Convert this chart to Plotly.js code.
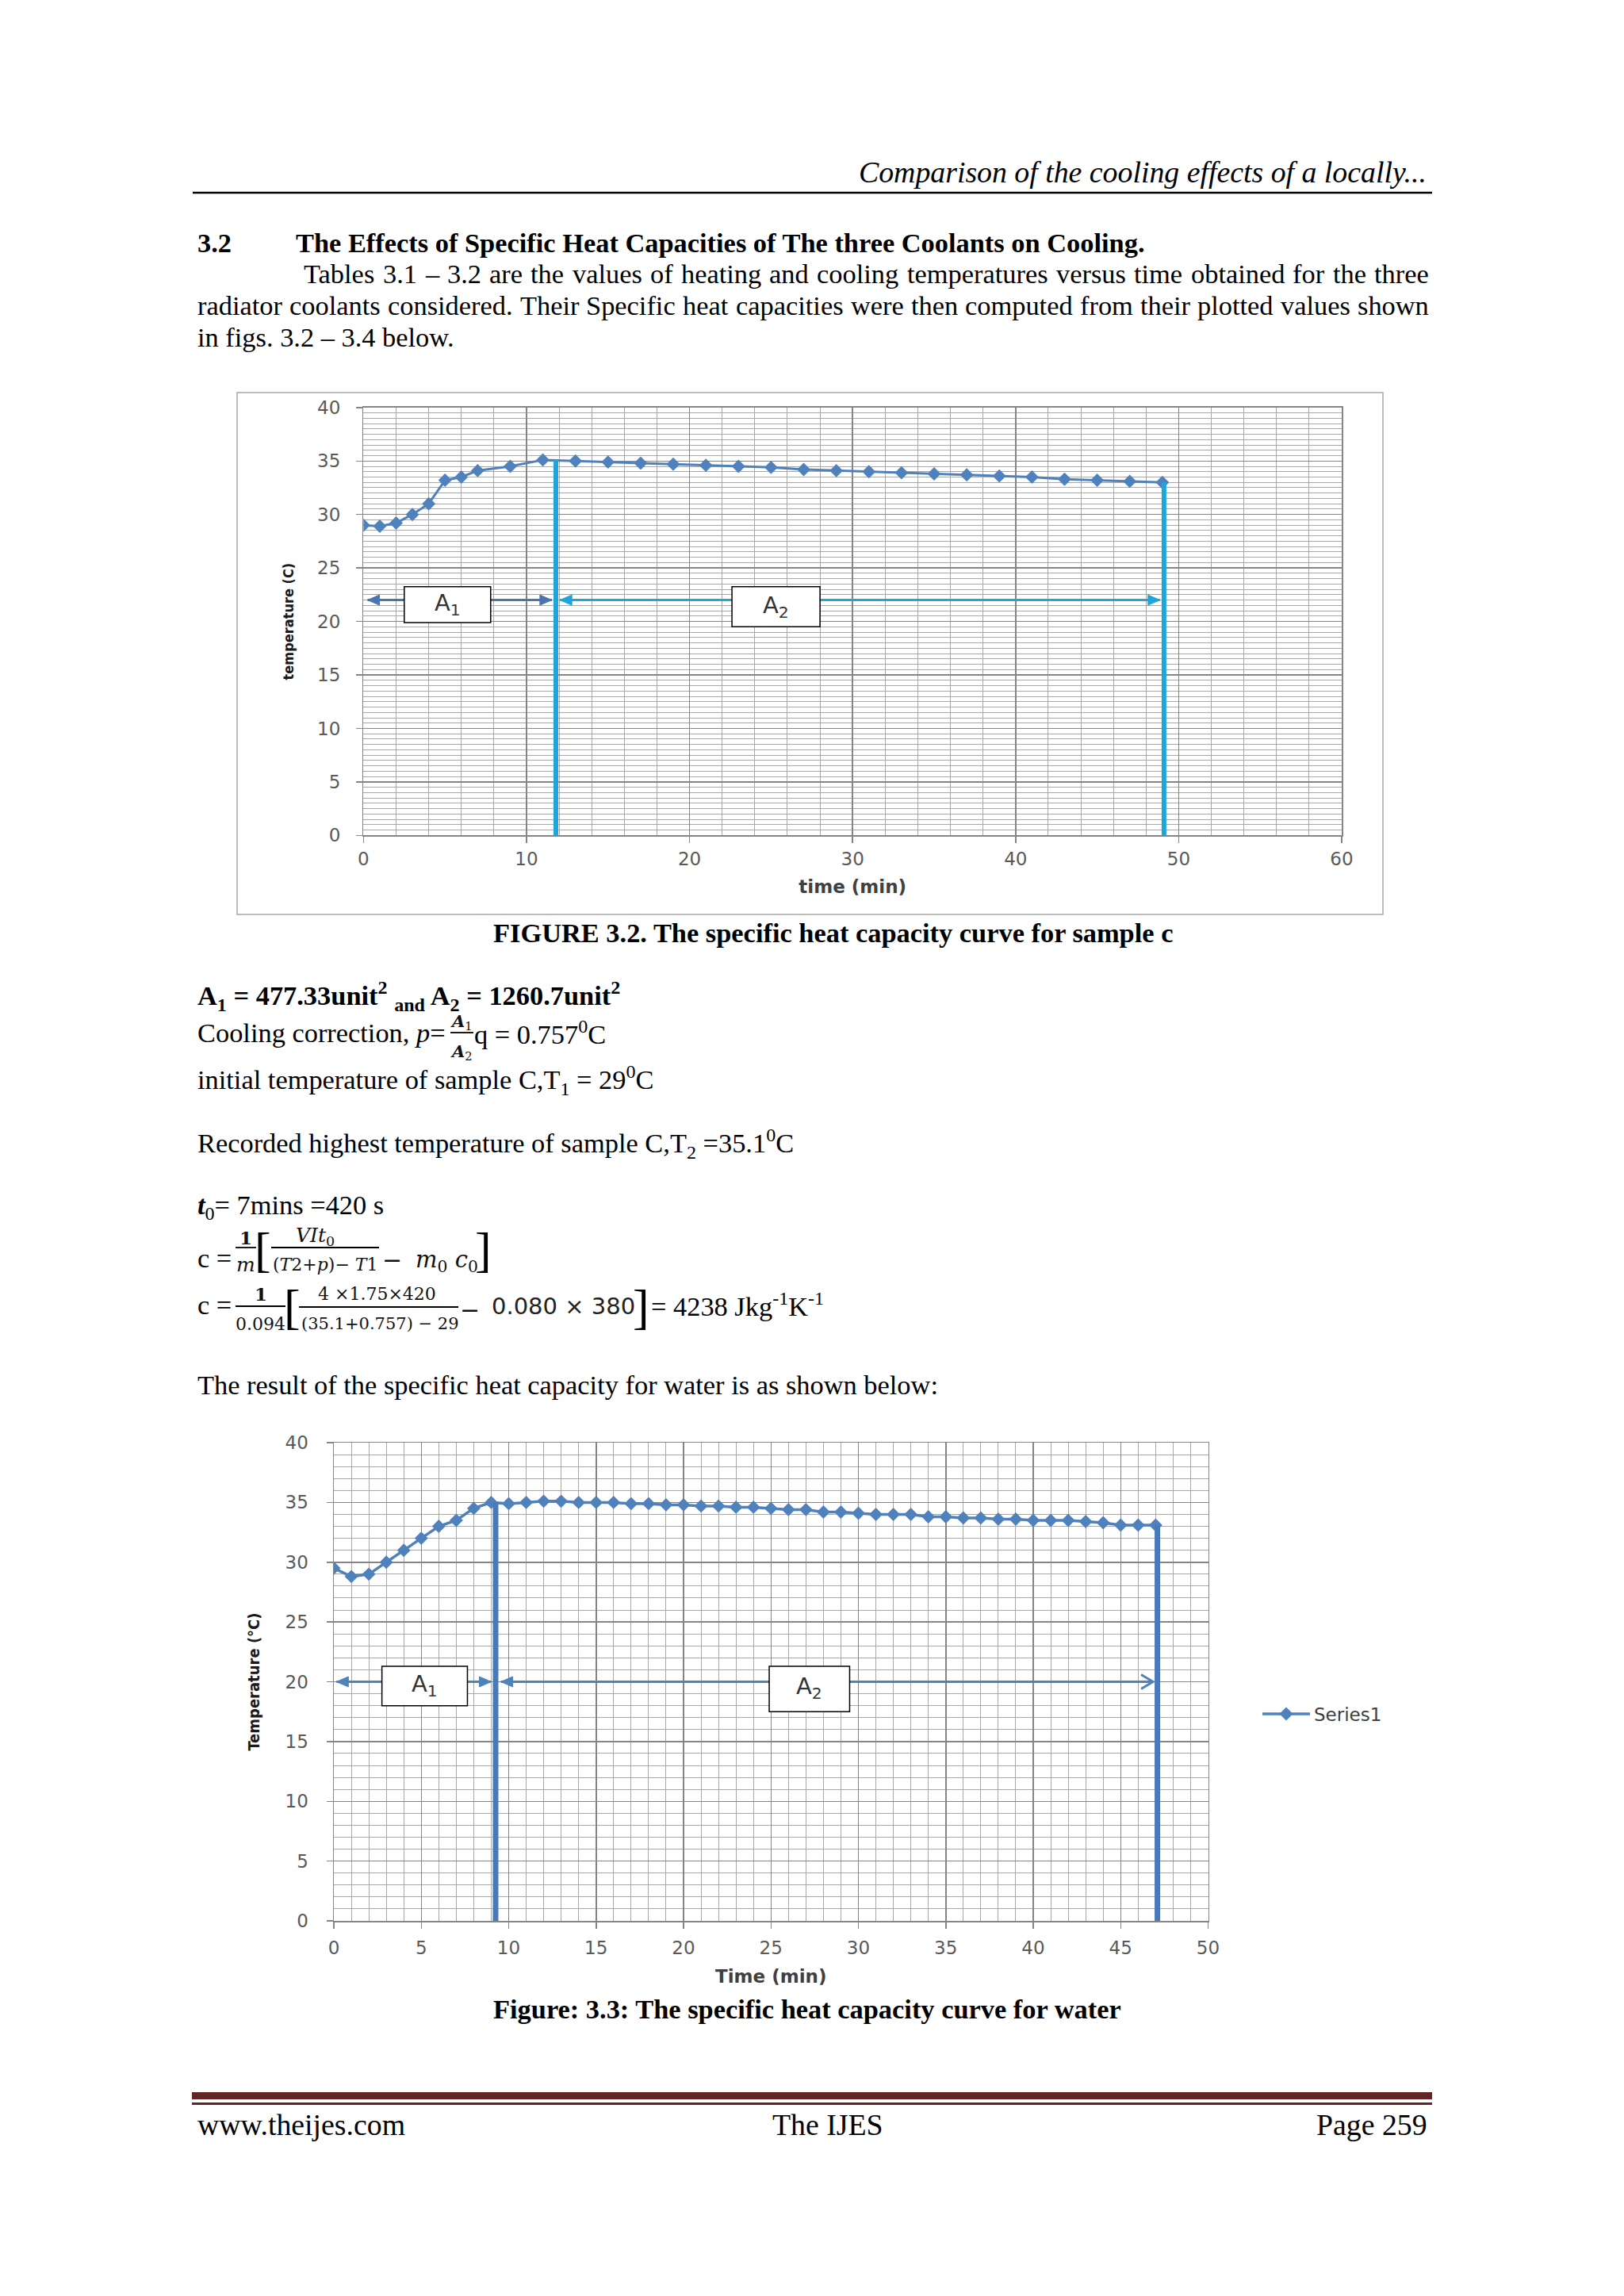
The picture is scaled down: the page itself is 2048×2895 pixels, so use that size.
<!DOCTYPE html>
<html><head><meta charset="utf-8">
<script src="https://cdn.plot.ly/plotly-3.0.1.min.js"></script>
<style>html,body{margin:0;padding:0;background:#fff}#page{width:2048px;height:2895px}</style>
</head><body><div id="page"></div>
<script>
// ---------------- data ----------------
const fig32Time = [0,1,2,3,4,5,6,7,9,11,13,15,17,19,21,23,25,27,29,31,33,35,37,39,41,43,45,47,49];
const fig32Temp = [29.0,28.9,29.2,30.0,31.0,33.2,33.5,34.1,34.5,35.1,35.0,34.9,34.8,34.7,34.6,34.5,34.4,34.2,34.1,34.0,33.9,33.8,33.7,33.6,33.5,33.3,33.2,33.1,33.0];
const fig33Time = [0,1,2,3,4,5,6,7,8,9,10,11,12,13,14,15,16,17,18,19,20,21,22,23,24,25,26,27,28,29,30,31,32,33,34,35,36,37,38,39,40,41,42,43,44,45,46,47];
const fig33Temp = [29.5,28.8,29.0,30.0,31.0,32.0,33.0,33.5,34.5,35.0,34.9,35.0,35.1,35.1,35.0,35.0,35.0,34.9,34.9,34.8,34.8,34.7,34.7,34.6,34.6,34.5,34.4,34.4,34.2,34.2,34.1,34.0,34.0,34.0,33.8,33.8,33.7,33.7,33.6,33.6,33.5,33.5,33.5,33.4,33.3,33.1,33.1,33.1];
const fig32XTicks = [0,10,20,30,40,50,60];
const fig32YTicks = [0,5,10,15,20,25,30,35,40];
const fig33XTicks = [0,5,10,15,20,25,30,35,40,45,50];
const fig33YTicks = [0,5,10,15,20,25,30,35,40];
const seriesName = 'Series1';

// ---------------- page helpers ----------------
const W = 2048, H = 2895;
const SERIF = 'Liberation Serif, Times New Roman, serif';
const MATH = 'DejaVu Serif, serif';
const SANS = 'DejaVu Sans, sans-serif';
const NARROW = 'Liberation Sans Narrow, DejaVu Sans Condensed, sans-serif';
const BODY = 34.4;
const anns = [];
const shapes = [];

function pageText(text, x, baseline, o) {
  o = o || {};
  const size = o.size || BODY;
  anns.push({xref:'paper', yref:'paper', x:x/W, y:1-(baseline-0.34*size)/H,
    xanchor:o.anchor||'left', yanchor:'middle', text:text, showarrow:false, borderpad:0,
    font:{family:o.family||SERIF, size:size, color:o.color||'#000'}});
}
function centerText(text, cx, cy, o) {
  o = o || {};
  anns.push({xref:'paper', yref:'paper', x:cx/W, y:1-cy/H, xanchor:'center', yanchor:'middle',
    text:text, showarrow:false, borderpad:0,
    font:{family:o.family||MATH, size:o.size||21, color:o.color||'#111'}});
}
function pageLine(x0, x1, y, w, c) {
  shapes.push({type:'line', xref:'paper', yref:'paper', x0:x0/W, x1:x1/W, y0:1-y/H, y1:1-y/H,
    line:{color:c||'#000', width:w}});
}
function pageRect(x0, x1, y0, y1, c) {
  shapes.push({type:'rect', xref:'paper', yref:'paper', x0:x0/W, x1:x1/W, y0:1-y1/H, y1:1-y0/H,
    fillcolor:c, line:{width:0}});
}
const measureCtx = document.createElement('canvas').getContext('2d');
function justify(line, x0, x1, baseline) {
  const words = line.split(' ');
  measureCtx.font = BODY + 'px "Liberation Serif"';
  const widths = words.map(w => measureCtx.measureText(w).width);
  const total = widths.reduce((a, b) => a + b, 0);
  const gap = (x1 - x0 - total) / (words.length - 1);
  let x = x0;
  words.forEach((w, i) => { pageText(w, x, baseline); x += widths[i] + gap; });
}

// ---------------- page text ----------------
pageText('<i>Comparison of the cooling effects of a locally...</i>', 1800, 230, {size:37.8, anchor:'right'});
pageLine(243, 1806, 243, 2.5);
pageText('<b>3.2</b>', 248, 318);
pageText('<b>The Effects of Specific Heat Capacities of The three Coolants on Cooling.</b>', 372, 318);
justify('Tables 3.1 \u2013 3.2 are the values of heating and cooling temperatures versus time obtained for the three', 382, 1801, 357);
justify('radiator coolants considered. Their Specific heat capacities were then computed from their plotted values shown', 248, 1801, 397);
pageText('in figs. 3.2 \u2013 3.4 below.', 248, 437);

pageText('<b>FIGURE 3.2. The specific heat capacity curve for sample c</b>', 1050, 1188, {anchor:'center'});

pageText('<b>A<sub>1</sub> = 477.33unit<sup>2</sup> <sub>and</sub> A<sub>2</sub> = 1260.7unit<sup>2</sup></b>', 248, 1268);
pageText('Cooling correction, <i>p</i>=', 248, 1314);
centerText('<i><b>A</b></i><sub>1</sub>', 582, 1288, {size:21});
pageLine(568, 597, 1302, 1.8);
centerText('<i><b>A</b></i><sub>2</sub>', 582, 1327, {size:21});
pageText('q = 0.757<sup>0</sup>C', 597, 1314);
pageText('initial temperature of sample C,T<sub>1</sub> = 29<sup>0</sup>C', 248, 1374);
pageText('Recorded highest temperature of sample C,T<sub>2</sub> =35.1<sup>0</sup>C', 248, 1454);
pageText('<i><b>t</b></i><sub>0</sub>= 7mins =420 s', 248, 1533);

// c = 1/m [ VIt0 / ((T2+p) - T1) - m0 c0 ]
pageText('c =', 248, 1598);
centerText('<b>1</b>', 310, 1560, {size:23});
pageLine(297, 323, 1573, 1.8);
centerText('<i>m</i>', 310, 1594, {size:25});
centerText('[', 331, 1576, {family:SERIF, size:62, color:'#000'});
centerText('<i>VIt</i><sub>0</sub>', 397, 1559, {size:25});
pageLine(342, 478, 1573, 1.8);
centerText('(<i>T</i>2+<i>p</i>)\u2212 <i>T</i>1', 410, 1594, {size:22});
centerText('\u2212', 494, 1588, {size:30});
centerText('<i>m</i><sub>0</sub> <i>c</i><sub>0</sub>', 563, 1590, {size:29});
centerText(']', 609, 1576, {family:SERIF, size:62, color:'#000'});

// c = 1/0.094 [ ... ] = 4238
pageText('c =', 248, 1657);
centerText('<b>1</b>', 329, 1632, {size:23});
pageLine(297, 360, 1647, 1.8);
centerText('0.094', 328, 1669, {size:22});
centerText('[', 368, 1648, {family:SERIF, size:62, color:'#000'});
centerText('4 \u00d71.75\u00d7420', 475, 1632, {size:22});
pageLine(377, 578, 1648, 1.8);
centerText('(35.1+0.757) \u2212 29', 479, 1669, {size:21});
centerText('\u2212', 592, 1652, {size:30});
centerText('0.080 \u00d7 380', 710, 1647, {family:SANS, size:29, color:'#222'});
centerText(']', 808, 1648, {family:SERIF, size:62, color:'#000'});
pageText('= 4238 Jkg<sup>-1</sup>K<sup>-1</sup>', 820, 1657);

pageText('The result of the specific heat capacity for water is as shown below:', 248, 1758);
pageText('<b>Figure: 3.3: The specific heat capacity curve for water</b>', 1018, 2545, {anchor:'center'});

// footer
pageRect(242, 1806, 2638, 2647, '#632523');
pageRect(242, 1806, 2651, 2654, '#632523');
pageText('www.theijes.com', 248, 2692, {size:37.8});
pageText('The IJES', 1044, 2692, {size:37.8, anchor:'center'});
pageText('Page 259', 1801, 2692, {size:37.8, anchor:'right'});

// frame around figure 3.2
shapes.push({type:'rect', xref:'paper', yref:'paper', x0:299/W, x1:1744/W, y0:1-1153/H, y1:1-495/H,
  line:{color:'#a6a6a6', width:1.5}, fillcolor:'rgba(0,0,0,0)'});

// ---------------- chart overlays (construction lines, arrows, A1/A2 boxes) ----------------
const CYAN = '#1DA6DC', DARK = '#4A76AC', BLUE2 = '#4879B8', SER = '#4F81BD';
function dLine(xr, yr, x0, y0, x1, y1, c, w) {
  shapes.push({type:'line', xref:xr, yref:yr, x0:x0, y0:y0, x1:x1, y1:y1, line:{color:c, width:w}});
}
function dBox(xr, yr, x0, x1, y0, y1) {
  shapes.push({type:'rect', xref:xr, yref:yr, x0:x0, x1:x1, y0:y0, y1:y1, fillcolor:'#fff', line:{color:'#000', width:1.5}});
}
// arrow: straight segment from tail to head plus a head drawn in pixel units at the head point
function arrow(xr, yr, hx, tx, y, c, open) {
  const dir = hx < tx ? 1 : -1;               // +1: head points left
  shapes.push({type:'line', xref:xr, yref:yr, x0:tx, x1:hx, y0:y, y1:y, line:{color:c, width:3}});
  const L = 15 * dir, hw = open ? 9 : 6.5;
  shapes.push({type:'path', xref:xr, yref:yr, xsizemode:'pixel', ysizemode:'pixel', xanchor:hx, yanchor:y,
    path: open ? `M${L},${-hw} L0,0 L${L},${hw}` : `M0,0 L${L},${-hw} L${L},${hw} Z`,
    line:{color:c, width:open ? 3 : 1}, fillcolor: open ? 'rgba(0,0,0,0)' : c});
}
function boxLabel(xr, yr, x, y, t) {
  anns.push({xref:xr, yref:yr, x:x, y:y, text:t, showarrow:false, font:{family:SANS, size:29, color:'#333'}});
}
// figure 3.2
dLine('x', 'y', 11.8, 0, 11.8, 35.1, CYAN, 6);
dLine('x', 'y', 49.1, 0, 49.1, 33.0, CYAN, 6);
arrow('x', 'y', 0.25, 2.5, 22, DARK, false);
arrow('x', 'y', 11.55, 7.8, 22, DARK, false);
arrow('x', 'y', 12.05, 22.6, 22, CYAN, false);
arrow('x', 'y', 48.85, 28.0, 22, CYAN, false);
dBox('x', 'y', 2.5, 7.8, 19.9, 23.25);
dBox('x', 'y', 22.6, 28.0, 19.5, 23.25);
boxLabel('x', 'y', 5.15, 21.6, 'A<sub>1</sub>');
boxLabel('x', 'y', 25.3, 21.4, 'A<sub>2</sub>');
// figure 3.3
dLine('x2', 'y2', 9.25, -0.7, 9.25, 35.0, BLUE2, 7);
dLine('x2', 'y2', 47.1, 0, 47.1, 33.1, BLUE2, 7);
arrow('x2', 'y2', 0.15, 2.75, 20, SER, false);
arrow('x2', 'y2', 9.0, 7.64, 20, SER, false);
arrow('x2', 'y2', 9.55, 24.9, 20, SER, false);
arrow('x2', 'y2', 46.85, 29.5, 20, SER, true);
dBox('x2', 'y2', 2.75, 7.64, 18.0, 21.3);
dBox('x2', 'y2', 24.9, 29.5, 17.5, 21.3);
boxLabel('x2', 'y2', 5.2, 19.7, 'A<sub>1</sub>');
boxLabel('x2', 'y2', 27.2, 19.5, 'A<sub>2</sub>');

// ---------------- traces ----------------
const traces = [
  {x:fig32Time, y:fig32Temp, xaxis:'x', yaxis:'y', type:'scatter', mode:'lines+markers', showlegend:false,
   name:seriesName, line:{color:SER, width:3}, marker:{symbol:'diamond', size:13, color:SER}},
  {x:fig33Time, y:fig33Temp, xaxis:'x2', yaxis:'y2', type:'scatter', mode:'lines+markers', showlegend:true,
   name:seriesName, line:{color:SER, width:3.5}, marker:{symbol:'diamond', size:13, color:SER}}
];

const tickFont = {family:SANS, size:23, color:'#595959'};
function xAxis(dom, anchor, range, ticks, minor, title, standoff, lstand) {
  return {domain:dom, anchor:anchor, range:range, tickvals:ticks, ticktext:ticks.map(String),
    showgrid:true, gridcolor:'#858585', gridwidth:1.5, zeroline:false,
    minor:{dtick:minor, tick0:0, showgrid:true, gridcolor:'#a8a8a8', gridwidth:1, ticks:''},
    ticks:'outside', ticklen:8, tickwidth:1.5, tickcolor:'#858585', ticklabelstandoff:lstand,
    showline:true, linecolor:'#858585', linewidth:1.5, mirror:true, tickfont:tickFont,
    title:{text:title, font:{family:SANS, size:23, color:'#404040'}, standoff:standoff}, fixedrange:true};
}
function yAxis(dom, anchor, range, ticks, minor, title, tsize, standoff, lstand) {
  return {domain:dom, anchor:anchor, range:range, tickvals:ticks, ticktext:ticks.map(String),
    showgrid:true, gridcolor:'#858585', gridwidth:1.5, zeroline:false,
    minor:{dtick:minor, tick0:0, showgrid:true, gridcolor:'#a8a8a8', gridwidth:1, ticks:''},
    ticks:'outside', ticklen:8, tickwidth:1.5, tickcolor:'#858585', ticklabelstandoff:lstand,
    showline:true, linecolor:'#858585', linewidth:1.5, mirror:true, tickfont:tickFont,
    title:{text:title, font:{family:NARROW, size:tsize, color:'#1a1a1a'}, standoff:standoff}, fixedrange:true};
}

const layout = {
  width:W, height:H, margin:{l:0, r:0, t:0, b:0}, paper_bgcolor:'#fff', plot_bgcolor:'#fff',
  xaxis: xAxis([458.4/W, 1692/W], 'y', [0, 60], fig32XTicks, 2, '<b>time (min)</b>', 15, 0),
  yaxis: yAxis([1-1053.4/H, 1-513.8/H], 'x', [0, 40], fig32YTicks, 0.5, '<b>temperature (C)</b>', 18, 24, 15),
  xaxis2: xAxis([421/W, 1523.5/W], 'y2', [0, 50], fig33XTicks, 1, '<b>Time (min)</b>', 16, 5),
  yaxis2: yAxis([1-2422/H, 1-1819/H], 'x2', [0, 40], fig33YTicks, 1, '<b>Temperature (\u00b0C)</b>', 20, 26, 18),
  legend:{x:1587/W, y:1-2161/H, xanchor:'left', yanchor:'middle', bgcolor:'rgba(0,0,0,0)',
    font:{family:SANS, size:23, color:'#404040'}, itemwidth:60},
  shapes:shapes, annotations:anns
};

Plotly.newPlot('page', traces, layout, {displayModeBar:false, staticPlot:true});
</script></body></html>
